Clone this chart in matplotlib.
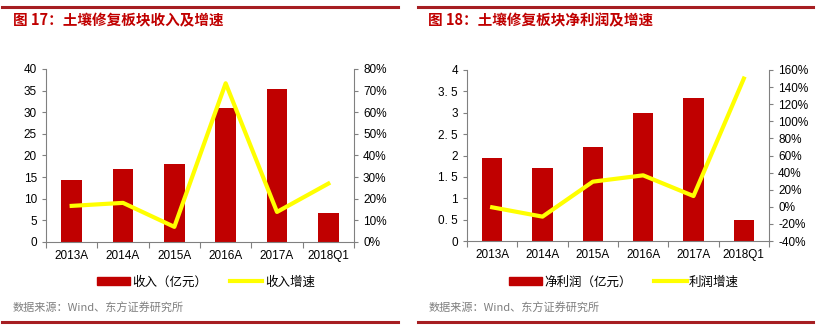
import numpy as np
import matplotlib
matplotlib.use("Agg")
import matplotlib.pyplot as plt
from matplotlib.lines import Line2D
from matplotlib.patches import Patch
from matplotlib.ticker import FuncFormatter

plt.rcParams['font.family'] = ['Liberation Sans', 'Noto Sans CJK SC', 'DejaVu Sans']

years = ['2013A', '2014A', '2015A', '2016A', '2017A', '2018Q1']

# 收入（亿元）与增速
revenue = [14.3, 16.8, 18.0, 31.0, 35.4, 6.6]
revenue_growth = [16.7, 18.1, 7.0, 73.4, 13.9, 27.0]

# 净利润（亿元）与增速
profit = [1.93, 1.71, 2.20, 2.99, 3.35, 0.49]
profit_growth = [-0.6, -11.5, 29.4, 36.8, 12.6, 150.0]

RED = '#C00000'
YELLOW = '#FFFF00'
GREY = '#808080'
W, H = 818, 330


def px(x0, y0, x1, y1):
    # pixel box -> figure fraction [left, bottom, width, height]
    return [x0 / W, 1 - y1 / H, (x1 - x0) / W, (y1 - y0) / H]


def style_axes(ax, ax2):
    for a in (ax, ax2):
        a.spines['top'].set_visible(False)
        for s in a.spines.values():
            s.set_color(GREY)
            s.set_linewidth(0.8)
        a.tick_params(axis='y', colors=GREY, labelcolor='black', labelsize=8.5,
                      length=3, width=0.8, direction='out')
    ax.spines['right'].set_visible(False)
    ax2.spines['left'].set_visible(False)
    ax2.spines['bottom'].set_visible(False)
    ax.set_xticks(np.arange(len(years)))
    ax.set_xticklabels(years)
    ax.tick_params(axis='x', length=0, labelsize=8.5, pad=6)
    ax.set_xticks(np.arange(len(years) + 1) - 0.5, minor=True)
    ax.tick_params(axis='x', which='minor', length=4, colors=GREY, width=0.8)
    ax.set_xlim(-0.5, len(years) - 0.5)


def panel(box, bars, growth, ylim, ystep, y2lim, y2step, yfmt, title, tx, labels, leg_x, src_x, line_x):
    ax = fig.add_axes(px(*box))
    ax2 = ax.twinx()
    x = np.arange(len(years))
    ax.bar(x, bars, width=0.4, color=RED, zorder=2)
    ax2.plot(x, growth, color=YELLOW, lw=3, zorder=3)
    ax.set_ylim(*ylim)
    ax.set_yticks(np.arange(ylim[0], ylim[1] + ystep / 2, ystep))
    ax.yaxis.set_major_formatter(FuncFormatter(yfmt))
    ax2.set_ylim(*y2lim)
    ax2.set_yticks(np.arange(y2lim[0], y2lim[1] + 1, y2step))
    ax2.yaxis.set_major_formatter(FuncFormatter(lambda v, p: f'{v:.0f}%'))
    ax.set_zorder(ax2.get_zorder() - 1)
    ax.patch.set_visible(False)
    style_axes(ax, ax2)

    fig.text(tx / W, 1 - 20 / H, title, color=RED, fontsize=10.5, fontweight='bold',
             family=['Noto Sans CJK SC', 'DejaVu Sans'], va='center', ha='left')
    handles = [Patch(color=RED), Line2D([], [], color=YELLOW, lw=3)]
    fig.legend(handles, labels, loc='center', bbox_to_anchor=(leg_x / W, 1 - 282 / H),
               ncol=2, frameon=False, handlelength=2.6, handleheight=0.6,
               handletextpad=0.2, columnspacing=1.8,
               prop={'family': ['Noto Sans CJK SC'], 'size': 9})
    fig.text(src_x / W, 1 - 308 / H, '数据来源：Wind、东方证券研究所', color='#7F7F7F', fontsize=8,
             family=['Noto Sans CJK SC', 'DejaVu Sans'], va='center', ha='left')
    for yy in (7, 322):
        fig.add_artist(Line2D([line_x[0] / W, line_x[1] / W], [1 - yy / H, 1 - yy / H],
                              color='#A61E22', lw=2.2))


fig = plt.figure(figsize=(W / 100, H / 100), dpi=100)

panel((46, 69, 354, 242), revenue, revenue_growth, (0, 40), 5, (0, 80), 10,
      lambda v, p: f'{v:.0f}', '图 17：土壤修复板块收入及增速', 13,
      ['收入（亿元）', '收入增速'], 206, 13, (2, 398))

panel((467, 70, 769, 241), profit, profit_growth, (0, 4), 0.5, (-40, 160), 20,
      lambda v, p: f'{v:g}'.replace('.', '. ') if v % 1 else f'{v:.0f}',
      '图 18：土壤修复板块净利润及增速', 428,
      ['净利润（亿元）', '利润增速'], 624, 429, (418, 813))

fig.savefig('out.png', dpi=100)
